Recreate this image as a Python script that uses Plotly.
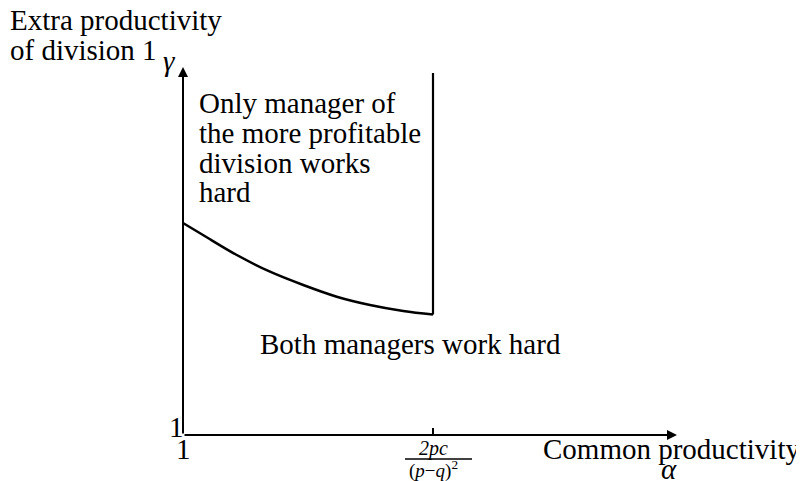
import plotly.graph_objects as go

# ---- data ----
alpha_curve = [1.0, 1.08, 1.215, 1.348, 1.481, 1.615, 1.748, 1.881, 2.0]
gamma_curve = [3.12, 3.00, 2.80, 2.633, 2.50, 2.383, 2.30, 2.24, 2.205]
alpha_threshold = 2.0
gamma_top = 4.62
alpha_axis_end = 2.976
gamma_axis_end = 4.68
origin = (1.0, 1.0)

W, H = 804, 481
OFF = 8  # page body margin in the browser
FW, FH = W - OFF, H - OFF
# pixel mapping helpers (layout only); px are reference-page pixels
X0, XS = 183.0, 250.0   # px of alpha=1, px per unit
Y0, YS = 435.0, 100.0   # px of gamma=1, px per unit
def dx(px):
    return 1 + (px - X0) / XS
def dy(py):
    return 1 + (Y0 - py) / YS

FONT = "Liberation Serif, Times New Roman, serif"
FS = 29

fig = go.Figure()
fig.add_trace(go.Scatter(x=alpha_curve, y=gamma_curve, mode="lines",
                         line=dict(color="black", width=2.5, shape="spline"),
                         hoverinfo="skip"))
fig.add_trace(go.Scatter(x=[alpha_threshold, alpha_threshold],
                         y=[gamma_curve[-1], gamma_top], mode="lines",
                         line=dict(color="black", width=2.2), hoverinfo="skip"))
fig.add_trace(go.Scatter(x=[alpha_threshold, alpha_threshold],
                         y=[origin[1], origin[1] + 0.07], mode="lines",
                         line=dict(color="black", width=2), hoverinfo="skip"))

ann = []
ann.append(dict(x=alpha_axis_end, y=origin[1], ax=origin[0], ay=origin[1],
                xref="x", yref="y", axref="x", ayref="y", text="",
                showarrow=True, arrowhead=2, arrowsize=1, arrowwidth=2, arrowcolor="black"))
ann.append(dict(x=origin[0], y=gamma_axis_end, ax=origin[0], ay=origin[1],
                xref="x", yref="y", axref="x", ayref="y", text="",
                showarrow=True, arrowhead=2, arrowsize=1, arrowwidth=2, arrowcolor="black"))

def label(text, px, baseline, size=FS, anchor="left"):
    ann.append(dict(x=dx(px), y=dy(baseline - 0.32 * size), xref="x", yref="y",
                    text=text, showarrow=False, xanchor=anchor, yanchor="middle",
                    font=dict(family=FONT, size=size, color="black")))

label("Extra productivity", 8, 29)
label("of division 1", 8, 59)
label("<i>γ</i>", 161, 70)
label("Only manager of", 197, 112)
label("the more profitable", 197, 142)
label("division works", 197, 172)
label("hard", 197, 201)
label("Both managers work hard", 258, 353)
label("1", 167, 436)
label("1", 174, 458)
label("Common productivity", 541, 458)
label("<i>α</i>", 669, 478, anchor="center")
label("<i>2pc</i>", 433, 455, size=20, anchor="center")
label("(<i>p</i>−<i>q</i>)<sup>2</sup>", 433, 476, size=19, anchor="center")

fig.add_shape(type="line", x0=dx(405), x1=dx(472), y0=dy(459), y1=dy(459),
              xref="x", yref="y", line=dict(color="black", width=1.5))

fig.update_layout(
    width=FW, height=FH, margin=dict(l=0, r=0, t=0, b=0),
    paper_bgcolor="white", plot_bgcolor="white", showlegend=False,
    annotations=ann,
    xaxis=dict(range=[dx(OFF), dx(W)], visible=False, fixedrange=True),
    yaxis=dict(range=[dy(H), dy(OFF)], visible=False, fixedrange=True),
)
fig.write_html("out.html")
